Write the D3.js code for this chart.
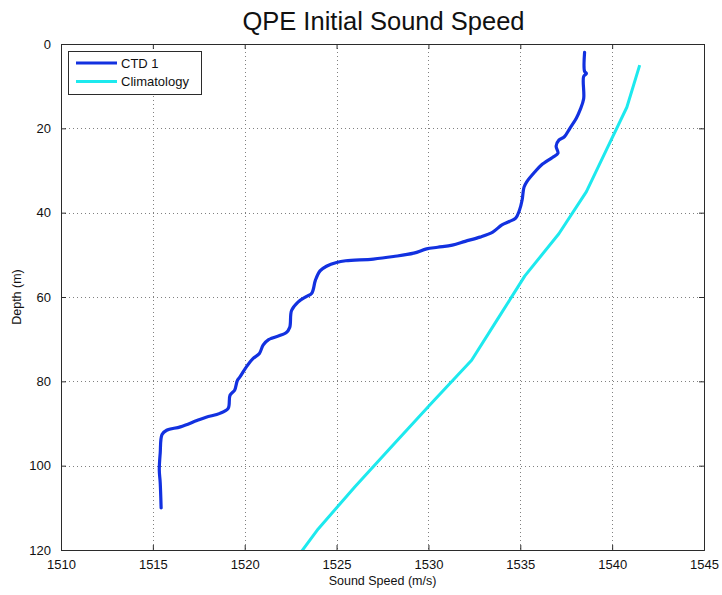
<!DOCTYPE html>
<html><head><meta charset="utf-8">
<script src="https://cdn.jsdelivr.net/npm/d3@7"></script>
<style>body{margin:0;background:#fff}svg{display:block}text{font-family:"Liberation Sans",Arial,Helvetica,sans-serif}</style>
</head><body>
<script>
const title = "QPE Initial Sound Speed";
const xLabel = "Sound Speed (m/s)";
const yLabel = "Depth (m)";
const xTicks = [1510,1515,1520,1525,1530,1535,1540,1545];
const yTicks = [0,20,40,60,80,100,120];
const seriesNames = ["CTD 1","Climatology"];
// CTD 1: [sound speed, depth]
const ctdSpeed = [1538.5,1538.5,1538.6,1538.45,1538.45,1538.25,1538.05,1537.7,1537.4,1537.1,1536.95,1537.05,1536.75,1536.15,1535.8,1535.35,1535.2,1535.1,1534.95,1534.75,1534.4,1534.0,1533.5,1532.8,1532.0,1531.3,1530.5,1529.9,1529.2,1528.1,1527.0,1525.5,1525.0,1524.45,1524.1,1523.85,1523.65,1523.35,1522.9,1522.55,1522.45,1522.25,1521.3,1521.0,1520.8,1520.45,1520.1,1519.75,1519.6,1519.45,1519.2,1519.1,1518.65,1517.9,1517.4,1516.5,1515.75,1515.5,1515.4,1515.35,1515.4,1515.45];
const ctdDepth = [2,6.5,7,7.7,13,15.7,17.6,20,22,22.8,24.2,25.9,26.9,28.7,30.3,32.7,34,37,39.5,41.3,42.1,42.9,44.6,45.8,46.8,47.7,48.2,48.6,49.6,50.4,51,51.4,51.8,52.7,53.8,56,59.1,59.9,61.2,63.2,67.2,68.5,70.1,71.4,73.4,74.6,76.5,78.9,79.8,82.1,83.3,86.4,87.6,88.5,89.3,90.8,91.6,92.6,97,101,104,110];
const climSpeed = [1541.5,1540.8,1539.7,1538.6,1537.1,1535.25,1533.8,1532.35,1530.2,1528.1,1526.0,1524.0,1522.3];
const climDepth = [5,15,25,35,45,55,65,75,85,95,105,115,125];

const W=722,H=595;
const L=61,R=704,T=44,B=550;
const svg=d3.select("body").append("svg").attr("width",W).attr("height",H);
const x=d3.scaleLinear().domain([1510,1545]).range([L,R]);
const y=d3.scaleLinear().domain([0,120]).range([T,B]);

// grid
const grid=svg.append("g").attr("stroke","#808080").attr("stroke-width",1).attr("stroke-dasharray","1,3");
xTicks.slice(1,-1).forEach(v=>grid.append("line").attr("x1",Math.round(x(v))+0.5).attr("x2",Math.round(x(v))+0.5).attr("y1",T).attr("y2",B));
yTicks.slice(1,-1).forEach(v=>grid.append("line").attr("y1",Math.round(y(v))+0.5).attr("y2",Math.round(y(v))+0.5).attr("x1",L).attr("x2",R));

svg.append("defs").append("clipPath").attr("id","clip").append("rect").attr("x",L).attr("y",T).attr("width",R-L).attr("height",B-T);

const line=d3.line().x(d=>x(d[0])).y(d=>y(d[1]));
const ctd=ctdSpeed.map((v,i)=>[v,ctdDepth[i]]);
const clim=climSpeed.map((v,i)=>[v,climDepth[i]]);
const plot=svg.append("g").attr("clip-path","url(#clip)");
plot.append("path").datum(clim).attr("d",line).attr("fill","none").attr("stroke","#1de9ee").attr("stroke-width",3).attr("stroke-linejoin","round");
plot.append("path").datum(ctd).attr("d",d3.line().x(d=>x(d[0])).y(d=>y(d[1])).curve(d3.curveCatmullRom)).attr("fill","none").attr("stroke","#1231e0").attr("stroke-width",3.2).attr("stroke-linejoin","round").attr("stroke-linecap","round");

// axes (MATLAB box, inward ticks)
const axc="#2b2b2b";
const tl=5;
const gB=svg.append("g").attr("transform",`translate(0,${B})`).call(d3.axisBottom(x).tickValues(xTicks).tickSize(-tl).tickPadding(10).tickFormat(d3.format("d")));
const gT=svg.append("g").attr("transform",`translate(0,${T})`).call(d3.axisTop(x).tickValues(xTicks).tickSize(-tl).tickFormat(""));
const gL=svg.append("g").attr("transform",`translate(${L},0)`).call(d3.axisLeft(y).tickValues(yTicks).tickSize(-tl).tickPadding(10).tickFormat(d3.format("d")));
const gR=svg.append("g").attr("transform",`translate(${R},0)`).call(d3.axisRight(y).tickValues(yTicks).tickSize(-tl).tickFormat(""));
[gB,gT,gL,gR].forEach(g=>{g.select(".domain").attr("stroke",axc);g.selectAll(".tick line").attr("stroke",axc);g.selectAll("text").attr("fill","#111").attr("font-size",13).attr("font-family","Liberation Sans, Arial, sans-serif");});
gB.selectAll("text").attr("dy","0.71em");

svg.append("text").attr("x",(L+R)/2+1).attr("y",30).attr("text-anchor","middle").attr("font-size",25.5).attr("fill","#111").text(title);
svg.append("text").attr("x",(L+R)/2).attr("y",585).attr("text-anchor","middle").attr("font-size",12.5).attr("fill","#111").text(xLabel);
svg.append("text").attr("transform",`translate(21,${(T+B)/2}) rotate(-90)`).attr("text-anchor","middle").attr("font-size",12.5).attr("fill","#111").text(yLabel);

// legend
const lg=svg.append("g");
lg.append("rect").attr("x",68.5).attr("y",51.5).attr("width",133).attr("height",43).attr("fill","#fff").attr("stroke",axc);
const cols=["#1231e0","#1de9ee"];
seriesNames.forEach((n,i)=>{
  const yy=63+i*18.5;
  lg.append("line").attr("x1",76).attr("x2",117).attr("y1",yy).attr("y2",yy).attr("stroke",cols[i]).attr("stroke-width",3);
  lg.append("text").attr("x",121).attr("y",yy+4.5).attr("font-size",13).attr("fill","#111").text(n);
});
</script>
</body></html>
